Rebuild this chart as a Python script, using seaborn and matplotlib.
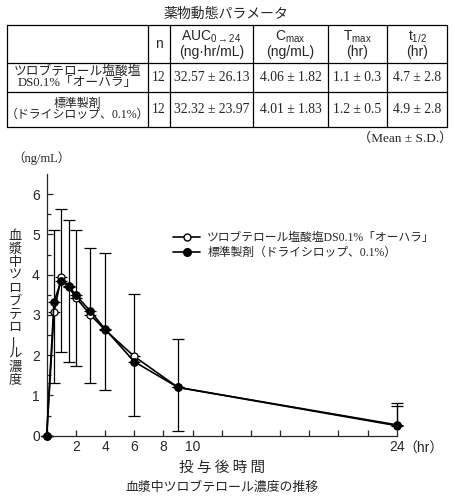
import numpy as np
import matplotlib.pyplot as plt
import seaborn as sns
from matplotlib.lines import Line2D

# 血漿中濃度 (ng/mL)
times = [0, 0.5, 1, 1.5, 2, 3, 4, 6, 9, 24]
test_mean = [0, 3.07, 3.94, 3.70, 3.43, 3.00, 2.63, 1.97, 1.20, 0.25]
test_sd = [0, 2.04, 1.68, 1.65, 1.69, 1.65, 1.92, 1.54, 1.20, 0.49]
ref_mean = [0, 3.33, 3.85, 3.72, 3.49, 3.09, 2.65, 1.84, 1.20, 0.27]
ref_sd = [0, 2.03, 1.78, 1.89, 1.76, 1.79, 1.51, 1.35, 1.08, 0.53]

test_label = "ツロブテロール塩酸塩DS0.1%「オーハラ」"
ref_label = "標準製剤（ドライシロップ、0.1%）"

# 薬物動態パラメータ table
col_headers = ["n", "AUC$_{0\\rightarrow24}$\n(ng·hr/mL)", "C$_{\\mathrm{max}}$\n(ng/mL)",
               "T$_{\\mathrm{max}}$\n(hr)", "t$_{1/2}$\n(hr)"]
products = ["ツロブテロール塩酸塩\nDS0.1%「オーハラ」", "標準製剤\n（ドライシロップ、0.1%）"]
n_vals = ["12", "12"]
auc = ["32.57 ± 26.13", "32.32 ± 23.97"]
cmax = ["4.06 ± 1.82", "4.01 ± 1.83"]
tmax = ["1.1 ± 0.3", "1.2 ± 0.5"]
thalf = ["4.7 ± 2.8", "4.9 ± 2.8"]

sns.set_style("ticks")
plt.rcParams['font.family'] = ['Liberation Sans', 'Noto Sans CJK JP']
plt.rcParams['mathtext.fontset'] = 'custom'
plt.rcParams['mathtext.rm'] = 'Liberation Sans'
plt.rcParams['mathtext.it'] = 'Liberation Sans'
serif_jp = ['Liberation Serif', 'Noto Sans CJK JP']
gothic = ['Noto Sans CJK JP', 'DejaVu Sans']

W, H = 455, 500
fig = plt.figure(figsize=(W / 100, H / 100), dpi=100)

# overlay in pixel coordinates for table and captions
ov = fig.add_axes([0, 0, 1, 1])
ov.set_xlim(0, W)
ov.set_ylim(H, 0)
ov.axis('off')

ov.text(226, 14, "薬物動態パラメータ", ha='center', va='center', fontsize=10, family=gothic)

col_x = [7, 148, 170, 253, 328, 387, 447]
row_y = [25, 63, 92, 127]
for yy in row_y:
    ov.plot([col_x[0], col_x[-1]], [yy, yy], color='black', lw=0.9)
for xx in col_x:
    ov.plot([xx, xx], [row_y[0], row_y[-1]], color='black', lw=0.9)

centers = [(col_x[i] + col_x[i + 1]) / 2 for i in range(len(col_x) - 1)]
for i, h in enumerate(col_headers):
    ov.text(centers[i + 1], 44, h, ha='center', va='center', fontsize=10, linespacing=1.05)

rows = list(zip(products, n_vals, auc, cmax, tmax, thalf))
for r, vals in enumerate(rows):
    cy = (row_y[r + 1] + row_y[r + 2]) / 2
    for c, v in enumerate(vals):
        if c == 0:
            ov.text(centers[c], cy, v, ha='center', va='center', fontsize=9.2 - 0.6 * r,
                    family=serif_jp, linespacing=0.95)
        else:
            ov.text(centers[c], cy, v, ha='center', va='center', fontsize=9.8,
                    family=serif_jp)

ov.text(452, 138, "（Mean ± S.D.）", ha='right', va='center', fontsize=9.5, family=serif_jp)

# plot axes
x0, x1, y0, y1 = 46.7, 396.7, 435.7, 174
ax = fig.add_axes([x0 / W, 1 - y0 / H, (x1 - x0) / W, (y0 - y1) / H])

t = np.array(times)
tm, ts = np.array(test_mean), np.array(test_sd)
rm, rs = np.array(ref_mean), np.array(ref_sd)
# test: +SD, reference: -SD (or +SD where -SD would fall below zero)
ref_low = np.where(rm - rs < 0, 0, rs)
ref_up = np.where(rm - rs < 0, rs, 0)
ax.errorbar(t, tm, yerr=[np.zeros_like(ts), ts], fmt='none', ecolor='black',
            elinewidth=0.9, capsize=4.5, capthick=0.9, clip_on=False, zorder=1)
ax.errorbar(t, rm, yerr=[ref_low, ref_up], fmt='none', ecolor='black',
            elinewidth=0.9, capsize=4.5, capthick=0.9, clip_on=False, zorder=1)

sns.lineplot(x=t, y=tm, ax=ax, color='black', lw=1.2, marker='o', markersize=5,
             markerfacecolor='white', markeredgecolor='black', markeredgewidth=0.9,
             clip_on=False, zorder=3)
sns.lineplot(x=t, y=rm, ax=ax, color='black', lw=1.2, marker='o', markersize=5.5,
             markerfacecolor='black', markeredgecolor='black', clip_on=False, zorder=4)

ax.set_xlim(0, 24)
ax.set_ylim(0, 6.5)
ax.set_xticks(np.arange(0, 25, 2))
ax.set_xticklabels(["", "2", "4", "6", "8", "10", "", "", "", "", "", "", "24"])
ax.set_yticks(range(0, 7))
ax.set_yticks(np.arange(0.5, 6.5, 1), minor=True)
ax.tick_params(direction='in', length=4, width=0.9, labelsize=10, pad=3)
ax.tick_params(axis='y', which='minor', direction='in', length=3, width=0.9)
ax.tick_params(axis='y', pad=5)
sns.despine(ax=ax)
for s in ['left', 'bottom']:
    ax.spines[s].set_linewidth(0.9)
ax.set_xlabel("")
ax.set_ylabel("")

handles = [Line2D([], [], color='black', lw=1.2, marker='o', markersize=5,
                  markerfacecolor='white', markeredgecolor='black'),
           Line2D([], [], color='black', lw=1.2, marker='o', markersize=5.5,
                  markerfacecolor='black')]
ax.legend(handles, [test_label, ref_label], loc='upper left', frameon=False,
          bbox_to_anchor=(173 / W, 1 - 232 / H), bbox_transform=fig.transFigure,
          borderpad=0, borderaxespad=0, handlelength=2.3, handletextpad=0.6,
          labelspacing=0.25, prop={'family': serif_jp, 'size': 8.5})
ov.text(210, 272, "Mean ± S.D., n=12", ha='left', va='center', fontsize=8.5, family=serif_jp)

# units and labels
ov.text(41, 158, "（ng/mL）", ha='center', va='center', fontsize=9, family=serif_jp)
ov.text(403, 449, "（hr）", ha='left', va='center', fontsize=10)
ylab = "血漿中ツロブテロール濃度"
for i, ch in enumerate(ylab):
    ov.text(15, 236 + i * 13.1, ch, ha='center', va='center', fontsize=9.5, family=gothic,
            rotation=90 if ch == 'ー' else 0)
ov.text(222, 468, "投 与 後 時 間", ha='center', va='center', fontsize=10.5, family=gothic)
ov.text(222, 487, "血漿中ツロブテロール濃度の推移", ha='center', va='center', fontsize=9.3,
        family=gothic)

fig.savefig("out.png", dpi=100)
